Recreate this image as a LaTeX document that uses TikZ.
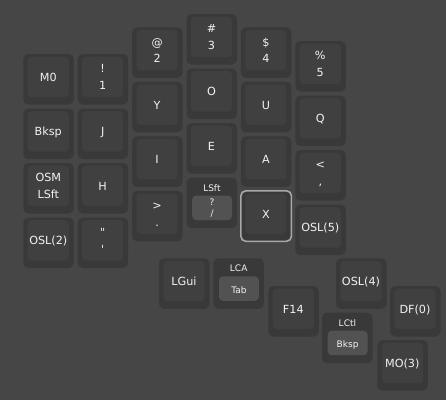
\documentclass[tikz,border=0pt]{standalone}
\usepackage{fontspec}
\newfontfamily\kf{DejaVu Sans}
\definecolor{bgc}{HTML}{464646}
\definecolor{kout}{HTML}{393939}
\definecolor{kin}{HTML}{404040}
\definecolor{mtin}{HTML}{525252}
\definecolor{hlc}{HTML}{A8A8A8}
\definecolor{txc}{HTML}{F2F2F2}
\tikzset{
  keybody/.style={fill=kout, rounded corners=5pt, minimum width=50.5pt, minimum height=50.5pt, inner sep=0pt, outer sep=0pt},
  keytop/.style={fill=kin, rounded corners=4pt},
  mtbox/.style={fill=mtin, rounded corners=4pt},
  lbl/.style={text=txc, font=\kf\fontsize{11.2}{13}\selectfont, inner sep=0pt, anchor=base},
  slbl/.style={text=txc, font=\kf\fontsize{9}{11}\selectfont, inner sep=0pt, anchor=base},
  hlkey/.style={draw=hlc, line width=1.6pt}
}
% plain key with one label
\newcommand\kone[4]{%
  \node[keybody] (#1) at (#2+25.25,#3+25.25) {};
  \fill[keytop] (#2+4.4,#3+2.7) rectangle (#2+45.5,#3+43);
  \node[lbl] (#1-a) at (#2+25,#3+27.2) {#4};
}
% plain key with two labels
\newcommand\ktwo[5]{%
  \node[keybody] (#1) at (#2+25.25,#3+25.25) {};
  \fill[keytop] (#2+4.4,#3+2.7) rectangle (#2+45.5,#3+43);
  \node[lbl] (#1-a) at (#2+25,#3+18.9) {#4};
  \node[lbl] (#1-b) at (#2+25,#3+35.6) {#5};
}
% mod-tap key: top label, lower box with one label
\newcommand\kmt[5]{%
  \node[keybody] (#1) at (#2+25.25,#3+25.25) {};
  \fill[mtbox] (#2+5.7,#3+18) rectangle (#2+45.5,#3+42.5);
  \node[slbl] (#1-a) at (#2+25.4,#3+13.6) {#4};
  \node[slbl] (#1-b) at (#2+25.6,#3+35) {#5};
}
% mod-tap key: top label, lower box with two labels
\newcommand\kmtt[6]{%
  \node[keybody] (#1) at (#2+25.25,#3+25.25) {};
  \fill[mtbox] (#2+5.7,#3+18) rectangle (#2+45.5,#3+42.5);
  \node[slbl] (#1-a) at (#2+25.4,#3+13.6) {#4};
  \node[slbl] (#1-b) at (#2+25.6,#3+27.6) {#5};
  \node[slbl] (#1-c) at (#2+25.6,#3+39.4) {#6};
}
\begin{document}
\begin{tikzpicture}[x=1pt,y=-1pt]
\fill[bgc] (0,0) rectangle (446,400);
\useasboundingbox (0,0) rectangle (446,400);
% column 0
\kone{m0}{23.3}{54}{M0}
\kone{bksp}{23.3}{108.5}{Bksp}
\ktwo{osm}{23.3}{163}{OSM}{LSft}
\kone{osltwo}{23.3}{217.5}{OSL(2)}
% column 1
\ktwo{one}{77.7}{54}{!}{1}
\kone{j}{77.7}{108.5}{J}
\kone{h}{77.7}{163}{H}
\ktwo{quote}{77.7}{217.5}{"}{\char"0027}
% column 2
\ktwo{two}{132.1}{27.3}{@}{2}
\kone{y}{132.1}{81.8}{Y}
\kone{i}{132.1}{136.3}{I}
\ktwo{dot}{132.1}{190.8}{>}{.}
% column 3
\ktwo{three}{186.5}{14}{\#}{3}
\kone{o}{186.5}{68.5}{O}
\kone{e}{186.5}{123}{E}
\kmtt{slash}{186.5}{177.5}{LSft}{?}{/}
% column 4
\ktwo{four}{240.9}{27.3}{\$}{4}
\kone{u}{240.9}{81.8}{U}
\kone{a}{240.9}{136.3}{A}
\kone{x}{240.9}{190.8}{X}
\draw[hlkey, rounded corners=5pt] (240.9,190.8) rectangle (291.4,241.3);
% column 5
\ktwo{five}{295.3}{41}{\%}{5}
\kone{q}{295.3}{95.5}{Q}
\ktwo{comma}{295.3}{150}{<}{,}
\kone{oslfive}{295.3}{204.5}{OSL(5)}
% thumb cluster
\kone{lgui}{159}{258.3}{LGui}
\kmt{tab}{213.3}{258.3}{LCA}{Tab}
\kone{ffourteen}{268.3}{286}{F14}
\kone{oslfour}{336}{258.3}{OSL(4)}
\kone{dfzero}{390}{286}{DF(0)}
\kmt{lctl}{322}{312.7}{LCtl}{Bksp}
\kone{mothree}{377.3}{340}{MO(3)}
\end{tikzpicture}
\end{document}
